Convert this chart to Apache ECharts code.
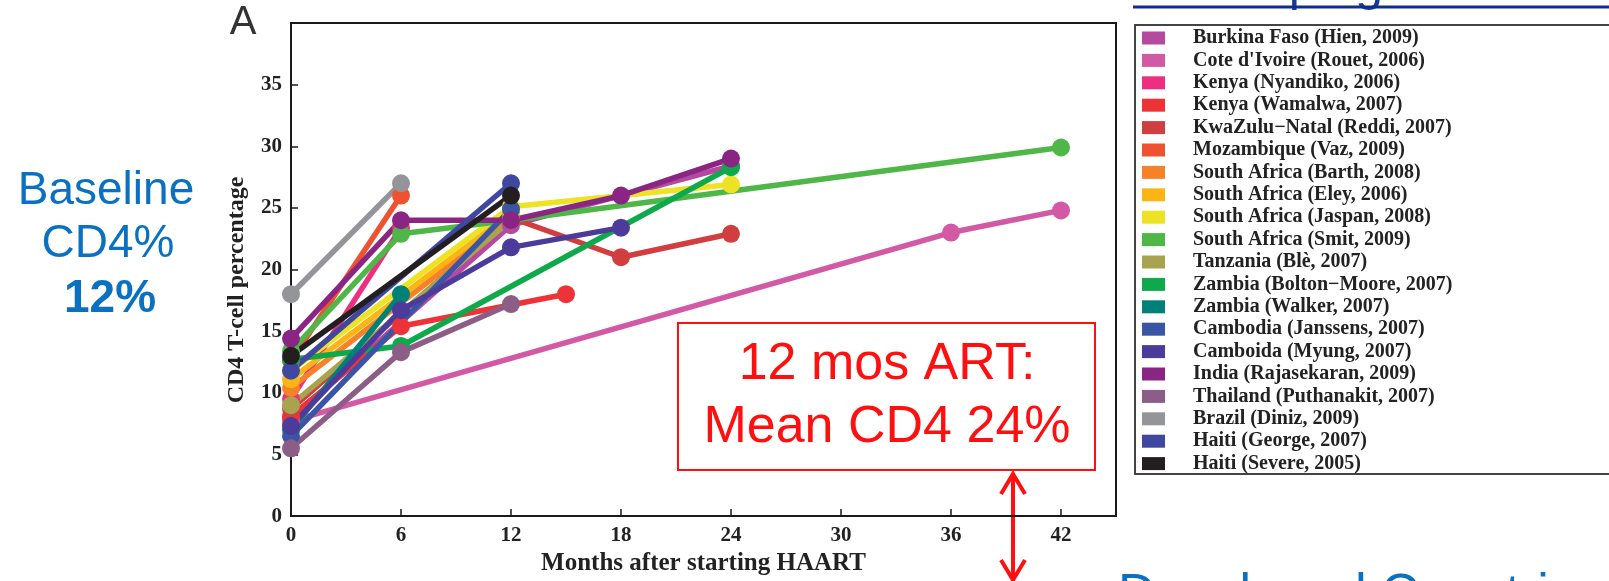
<!DOCTYPE html>
<html>
<head>
<meta charset="utf-8">
<title>CD4 T-cell percentage after starting HAART</title>
<script src="https://cdn.jsdelivr.net/npm/echarts@6/dist/echarts.min.js"></script>
<style>
  html, body { margin: 0; padding: 0; background: #ffffff; }
  #chart { width: 1609px; height: 581px; }
</style>
</head>
<body>
<div id="chart"></div>
<script>
// Study names, in legend order
const studies = [
  'Burkina Faso (Hien, 2009)',
  "Cote d'Ivoire (Rouet, 2006)",
  'Kenya (Nyandiko, 2006)',
  'Kenya (Wamalwa, 2007)',
  'KwaZulu\u2212Natal (Reddi, 2007)',
  'Mozambique (Vaz, 2009)',
  'South Africa (Barth, 2008)',
  'South Africa (Eley, 2006)',
  'South Africa (Jaspan, 2008)',
  'South Africa (Smit, 2009)',
  'Tanzania (Bl\u00e8, 2007)',
  'Zambia (Bolton\u2212Moore, 2007)',
  'Zambia (Walker, 2007)',
  'Cambodia (Janssens, 2007)',
  'Camboida (Myung, 2007)',
  'India (Rajasekaran, 2009)',
  'Thailand (Puthanakit, 2007)',
  'Brazil (Diniz, 2009)',
  'Haiti (George, 2007)',
  'Haiti (Severe, 2005)'
];

const studyColors = [
  '#b5489f', '#d159a5', '#ec2f80', '#ee3338', '#d03e40',
  '#ef5230', '#f58229', '#fdb515', '#ede324', '#4eb748',
  '#a8a34f', '#0da94b', '#008178', '#3a55a5', '#4c3b9b',
  '#8a2584', '#8c5e87', '#939598', '#3f47a1', '#231f20'
];

// [months after starting HAART, CD4 %] for each study
const hien2009       = [[0, 7.9], [12, 23.6], [24, 28.4]];
const rouet2006      = [[0, 7.7], [36, 23.0], [42, 24.8]];
const nyandiko2006   = [[0, 9.5], [6, 23.4]];
const wamalwa2007    = [[0, 8.1], [6, 15.4], [15, 18.0]];
const reddi2007      = [[0, 8.7], [12, 24.2], [18, 21.0], [24, 22.9]];
const vaz2009        = [[0, 12.6], [6, 26.0]];
const barth2008      = [[0, 10.4], [12, 24.2]];
const eley2006       = [[0, 11.1], [12, 24.6]];
const jaspan2008     = [[0, 11.8], [12, 25.1], [24, 26.9]];
const smit2009       = [[0, 13.4], [6, 22.9], [12, 24.0], [42, 29.9]];
const ble2007        = [[0, 9.0], [12, 24.0]];
const boltonMoore2007 = [[0, 12.7], [6, 13.8], [24, 28.3]];
const walker2007     = [[0, 7.0], [6, 18.0]];
const janssens2007   = [[0, 6.5], [12, 24.9]];
const myung2007      = [[0, 7.3], [6, 16.7], [12, 21.8], [18, 23.4]];
const rajasekaran2009 = [[0, 14.4], [6, 24.0], [12, 24.0], [18, 26.0], [24, 29.0]];
const puthanakit2007 = [[0, 5.5], [6, 13.3], [12, 17.2]];
const diniz2009      = [[0, 18.0], [6, 27.0]];
const george2007     = [[0, 11.8], [12, 27.0]];
const severe2005     = [[0, 13.0], [12, 26.0]];

const studyData = [
  hien2009, rouet2006, nyandiko2006, wamalwa2007, reddi2007,
  vaz2009, barth2008, eley2006, jaspan2008, smit2009,
  ble2007, boltonMoore2007, walker2007, janssens2007, myung2007,
  rajasekaran2009, puthanakit2007, diniz2009, george2007, severe2005
];

// Axis ranges
const xMax = 45, xStep = 6;
const yMax = 40, yStep = 5;

const serif = '"Liberation Serif", "Times New Roman", serif';
const sans = '"Liberation Sans", Arial, Helvetica, sans-serif';
const ink = '#1a1a1a';

const series = studies.map((name, i) => ({
  name: name,
  type: 'line',
  data: studyData[i],
  symbol: 'circle',
  symbolSize: 18,
  showSymbol: true,
  color: studyColors[i],
  lineStyle: { width: 5.5, color: studyColors[i] },
  itemStyle: { color: studyColors[i] },
  emphasis: { disabled: true },
  animation: false
}));

function txt(text, x, y, font, fill, align, rotation) {
  return {
    type: 'text',
    x: x, y: y,
    rotation: rotation || 0,
    silent: true,
    style: {
      text: text, font: font, fill: fill,
      align: align || 'center', textAlign: align || 'center',
      verticalAlign: 'middle', textVerticalAlign: 'middle'
    }
  };
}

const red = '#ff1010';

const option = {
  backgroundColor: '#ffffff',
  animation: false,
  grid: {
    left: 291, right: 493, top: 23, bottom: 63,
    show: true, borderColor: ink, borderWidth: 2,
    backgroundColor: 'transparent'
  },
  xAxis: {
    type: 'value', min: 0, max: xMax, interval: xStep,
    axisLine: { show: true, onZero: false, lineStyle: { color: ink, width: 2 } },
    axisTick: { show: true, inside: true, length: 7, lineStyle: { color: ink, width: 1.5 } },
    axisLabel: {
      showMaxLabel: false, margin: 9, color: '#222',
      fontFamily: serif, fontWeight: 'bold', fontSize: 21
    },
    splitLine: { show: false },
    name: 'Months after starting HAART',
    nameLocation: 'middle', nameGap: 33,
    nameTextStyle: { fontFamily: serif, fontWeight: 'bold', fontSize: 25, color: '#222' }
  },
  yAxis: {
    type: 'value', min: 0, max: yMax, interval: yStep,
    axisLine: { show: true, lineStyle: { color: ink, width: 2 } },
    axisTick: { show: true, inside: true, length: 7, lineStyle: { color: ink, width: 1.5 } },
    axisLabel: {
      showMaxLabel: false, margin: 9, color: '#222',
      fontFamily: serif, fontWeight: 'bold', fontSize: 21
    },
    splitLine: { show: false }
  },
  legend: {
    data: studies,
    orient: 'vertical',
    left: 1142, top: 28,
    padding: 0,
    icon: 'rect',
    itemWidth: 23, itemHeight: 13, itemGap: 2.4,
    selectedMode: false,
    textStyle: {
      fontFamily: serif, fontWeight: 'bold', fontSize: 20,
      color: '#222', lineHeight: 16, padding: [0, 0, 0, 23]
    }
  },
  series: series,
  graphic: [
    // panel letter
    txt('A', 243, 23, '40px ' + sans, '#333'),
    // y axis title, set a little below the axis middle
    txt('CD4 T-cell percentage', 237, 290, 'bold 24px ' + serif, '#222', 'center', Math.PI / 2),
    // baseline note on the left
    txt('Baseline', 106, 191, '46px ' + sans, '#0a70c2'),
    txt('CD4%', 108, 244, '46px ' + sans, '#0a70c2'),
    txt('12%', 110, 299, 'bold 46px ' + sans, '#0a70c2'),
    // legend frame
    {
      type: 'rect', silent: true,
      shape: { x: 1135, y: 25, width: 600, height: 449 },
      style: { fill: 'none', stroke: '#444', lineWidth: 2 }
    },
    // 12-month note
    {
      type: 'rect', silent: true,
      shape: { x: 678, y: 323, width: 417, height: 147 },
      style: { fill: '#ffffff', stroke: red, lineWidth: 2 }
    },
    txt('12 mos ART:', 887, 365, '52px ' + sans, red),
    txt('Mean CD4 24%', 887, 428, '52px ' + sans, red),
    // double-headed arrow
    {
      type: 'line', silent: true,
      shape: { x1: 1013, y1: 474, x2: 1013, y2: 590 },
      style: { stroke: red, lineWidth: 4 }
    },
    {
      type: 'polyline', silent: true,
      shape: { points: [[1001, 494], [1013, 474], [1025, 494]] },
      style: { fill: 'none', stroke: red, lineWidth: 4 }
    },
    {
      type: 'polyline', silent: true,
      shape: { points: [[1001, 560], [1013, 580], [1025, 560]] },
      style: { fill: 'none', stroke: red, lineWidth: 4 }
    },
    // slide headings around the chart
    txt('Developing Countries', 1133, -14, '50px ' + sans, '#1a3a99', 'left'),
    {
      type: 'line', silent: true,
      shape: { x1: 1133, y1: 7, x2: 1640, y2: 7 },
      style: { stroke: '#0d2e90', lineWidth: 3 }
    },
    txt('Developed Countries', 1118, 596, '52px ' + sans, '#0a70c2', 'left')
  ]
};

const chart = echarts.init(document.getElementById('chart'), null, { renderer: 'canvas' });
chart.setOption(option);
</script>
</body>
</html>
